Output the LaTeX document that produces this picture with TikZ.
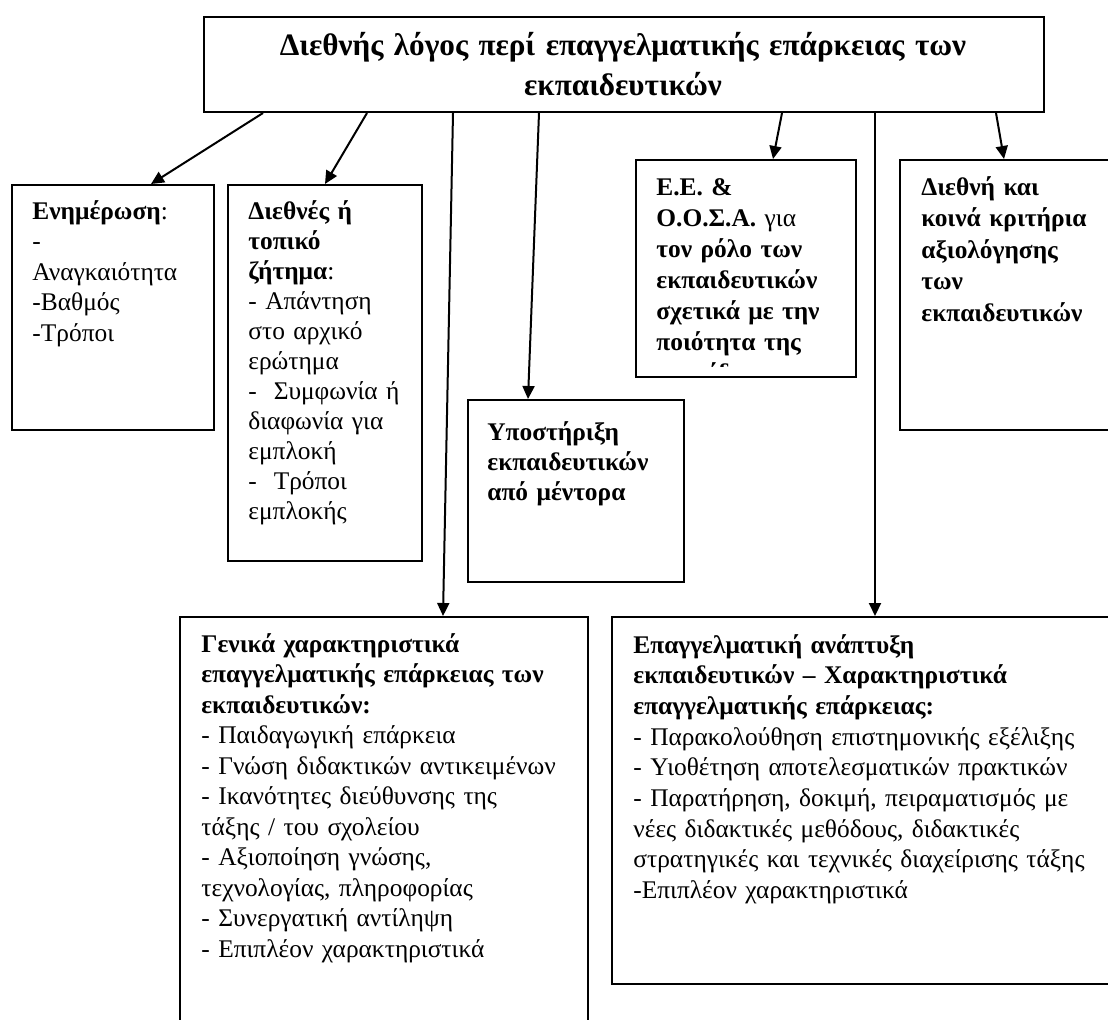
\documentclass[tikz,border=0pt]{standalone}
\usepackage{fontspec}
\setmainfont{Liberation Serif}
\usetikzlibrary{arrows.meta,calc}

\begin{document}
\begin{tikzpicture}[x=0.5pt, y=-0.5pt,
  box/.style={draw, line width=1pt, inner sep=0pt, anchor=north west},
  txt/.style={anchor=base west, inner sep=0pt, align=left, font=\fontsize{12.7pt}{15.25pt}\selectfont},
  bld/.style={txt, font=\fontsize{12.7pt}{15.5pt}\selectfont\bfseries},
  ttl/.style={anchor=base, inner sep=0pt, align=center, text width=420pt, font=\fontsize{15.6pt}{20pt}\selectfont\bfseries},
  arr/.style={line width=1pt, -{Triangle[length=6.5pt, width=6pt]}}]
  \clip (0,0) rectangle (1108,1019);

  % Title box
  \node[box, minimum width=420pt, minimum height=47.5pt] (top) at (203,16) {};
  \node[ttl] (toptxt) at (623,55) {Διεθνής λόγος περί επαγγελματικής επάρκειας των\\εκπαιδευτικών};

  % Upper row of boxes
  \node[box, minimum width=101pt, minimum height=122.5pt] (enim) at (11,184) {};
  \node[txt, text width=88pt] (enimtxt) at (32,219) {\textbf{Ενημέρωση}:\\-\\Αναγκαιότητα\\-Βαθμός\\-Τρόποι};

  \node[box, minimum width=97pt, minimum height=188pt] (diethnes) at (227,184) {};
  \node[txt, text width=86pt, font=\fontsize{12.7pt}{15pt}\selectfont] (diethtxt) at (248,219)
    {\textbf{Διεθνές ή}\\\textbf{τοπικό}\\\textbf{ζήτημα}:\\- Απάντηση\\στο αρχικό\\ερώτημα\\-\ \ Συμφωνία ή\\διαφωνία για\\εμπλοκή\\-\ \ Τρόποι\\εμπλοκής};

  \node[box, minimum width=110pt, minimum height=108.5pt] (ee) at (635,159) {};
  \begin{scope}
    \clip (ee.north west) rectangle ($(ee.south east)+(0,-12)$);
    \node[bld, text width=98pt] (eetxt) at (656,195)
      {Ε.Ε. \&\\Ο.Ο.Σ.Α. \textmd{για}\\τον ρόλο των\\εκπαιδευτικών\\σχετικά με την\\ποιότητα της\\εκπαίδευσης};
  \end{scope}

  \node[box, minimum width=115pt, minimum height=135pt] (krit) at (899,159) {};
  \node[bld, text width=92pt, font=\fontsize{12.7pt}{15.75pt}\selectfont\bfseries] (krittxt) at (921,195)
    {Διεθνή και\\κοινά κριτήρια\\αξιολόγησης\\των\\εκπαιδευτικών};

  \node[box, minimum width=108pt, minimum height=91pt] (ypost) at (467,399) {};
  \node[bld, text width=96pt, font=\fontsize{12.7pt}{15pt}\selectfont\bfseries] (yposttxt) at (487,440)
    {Υποστήριξη\\εκπαιδευτικών\\από μέντορα};

  % Lower row of boxes
  \node[box, minimum width=204pt, minimum height=210pt] (genika) at (179,616) {};
  \node[txt, text width=192pt] (genikatxt) at (201,652)
    {\textbf{Γενικά χαρακτηριστικά}\\\textbf{επαγγελματικής επάρκειας των}\\\textbf{εκπαιδευτικών:}\\- Παιδαγωγική επάρκεια\\- Γνώση διδακτικών αντικειμένων\\- Ικανότητες διεύθυνσης της\\τάξης / του σχολείου\\- Αξιοποίηση γνώσης,\\τεχνολογίας, πληροφορίας\\- Συνεργατική αντίληψη\\- Επιπλέον χαρακτηριστικά};

  \node[box, minimum width=260pt, minimum height=183.5pt] (epag) at (611,616) {};
  \node[txt, text width=240pt, font=\fontsize{12.7pt}{15.35pt}\selectfont] (epagtxt) at (633,653)
    {\textbf{Επαγγελματική ανάπτυξη}\\\textbf{εκπαιδευτικών – Χαρακτηριστικά}\\\textbf{επαγγελματικής επάρκειας:}\\- Παρακολούθηση επιστημονικής εξέλιξης\\- Υιοθέτηση αποτελεσματικών πρακτικών\\- Παρατήρηση, δοκιμή, πειραματισμός με\\νέες διδακτικές μεθόδους, διδακτικές\\στρατηγικές και τεχνικές διαχείρισης τάξης\\-Επιπλέον χαρακτηριστικά};

  % Connectors
  \draw[arr] ($(top.south west)+(60,0)$) -- ($(enim.north)+(38,0)$);
  \draw[arr] ($(top.south west)+(164,0)$) -- (diethnes.north);
  \draw[arr] ($(top.south west)+(250,0)$) -- ($(genika.north west)+(264,0)$);
  \draw[arr] ($(top.south west)+(336,0)$) -- ($(ypost.north west)+(61,0)$);
  \draw[arr] ($(top.south west)+(579,0)$) -- ($(ee.north west)+(138,0)$);
  \draw[arr] ($(top.south west)+(672,0)$) -- ($(epag.north west)+(264,0)$);
  \draw[arr] ($(top.south west)+(793,0)$) -- ($(krit.north west)+(105,0)$);
\end{tikzpicture}
\end{document}
